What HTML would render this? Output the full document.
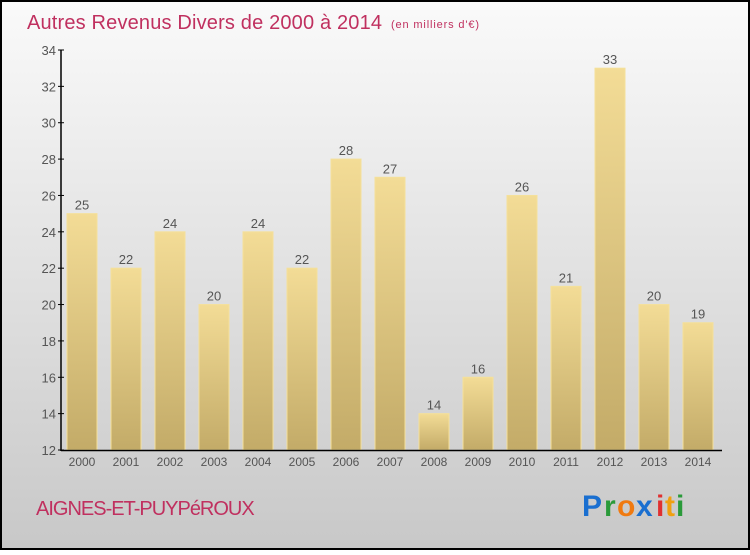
<!DOCTYPE html>
<html><head><meta charset="utf-8"><style>
html,body{margin:0;padding:0}
body{width:750px;height:550px;overflow:hidden;font-family:"Liberation Sans",sans-serif}
</style></head><body>
<svg width="750" height="550" xmlns="http://www.w3.org/2000/svg">
<defs>
<linearGradient id="bg" x1="0" y1="0" x2="0" y2="1"><stop offset="0" stop-color="#fafafa"/><stop offset="1" stop-color="#c8c8c8"/></linearGradient>
<linearGradient id="bar" x1="0" y1="0" x2="0" y2="1"><stop offset="0" stop-color="#f3dc96"/><stop offset="1" stop-color="#c3ab68"/></linearGradient>
</defs>
<rect x="1" y="1" width="748" height="548" fill="url(#bg)" stroke="#000" stroke-width="2"/>
<text x="27" y="29" font-size="20" fill="#c0305f" textLength="355">Autres Revenus Divers de 2000 à 2014</text>
<text x="391" y="28" font-size="11" fill="#c0305f" textLength="88">(en milliers d'€)</text>
<g id="yaxis"></g>
<g id="bars"></g>
<line x1="61" y1="50" x2="61" y2="451" stroke="#000" stroke-width="1.5"/>
<line x1="61" y1="450.5" x2="722" y2="450.5" stroke="#000" stroke-width="1.5"/>
<text x="36" y="515" font-size="20" fill="#c0305f" letter-spacing="-1">AIGNES-ET-PUYPéROUX</text>
<g font-size="30" font-weight="bold">
<text x="582" y="516" fill="#1a6fd0">P</text><text x="604" y="516" fill="#2a9a3a">r</text><text x="617" y="516" fill="#f07a10">o</text><text x="636" y="516" fill="#1a6fd0">x</text><text x="656" y="516" fill="#e03030">i</text><text x="665" y="516" fill="#f0a010">t</text><text x="676" y="516" fill="#2a9a3a">i</text>
</g>
</svg>
<script>
const years=["2000","2001","2002","2003","2004","2005","2006","2007","2008","2009","2010","2011","2012","2013","2014"];
const values=[25,22,24,20,24,22,28,27,14,16,26,21,33,20,19];
const yTicks=[12,14,16,18,20,22,24,26,28,30,32,34];
const NS="http://www.w3.org/2000/svg";
const y=v=>450-(v-12)*400/22;
const x=i=>82+i*44;
function mk(t,a,p){const e=document.createElementNS(NS,t);for(const k in a)e.setAttribute(k,a[k]);p.appendChild(e);return e;}
const ya=document.getElementById('yaxis');
yTicks.forEach(t=>{
 const l=mk('line',{x1:58,x2:64,y1:y(t),y2:y(t),stroke:'#000'},ya);
 
 
 const tx=mk('text',{x:56,y:y(t)+5,'text-anchor':'end','font-size':13,fill:'#555'},ya);
 tx.textContent=t;
 
 
});
const bg=document.getElementById('bars');
values.forEach((v,i)=>{
 const r=mk('rect',{x:x(i)-15,y:y(v),width:30,height:450-y(v),fill:'url(#bar)',stroke:'#f5e09a','stroke-width':1},bg);
 
 
 const vl=mk('text',{x:x(i),y:y(v)-4,'text-anchor':'middle','font-size':13,fill:'#555'},bg);
 vl.textContent=v;
 
 
 const xl=mk('text',{x:x(i),y:466,'text-anchor':'middle','font-size':12,fill:'#555'},bg);
 xl.textContent=years[i];
 
 
});
</script>
</body></html>
